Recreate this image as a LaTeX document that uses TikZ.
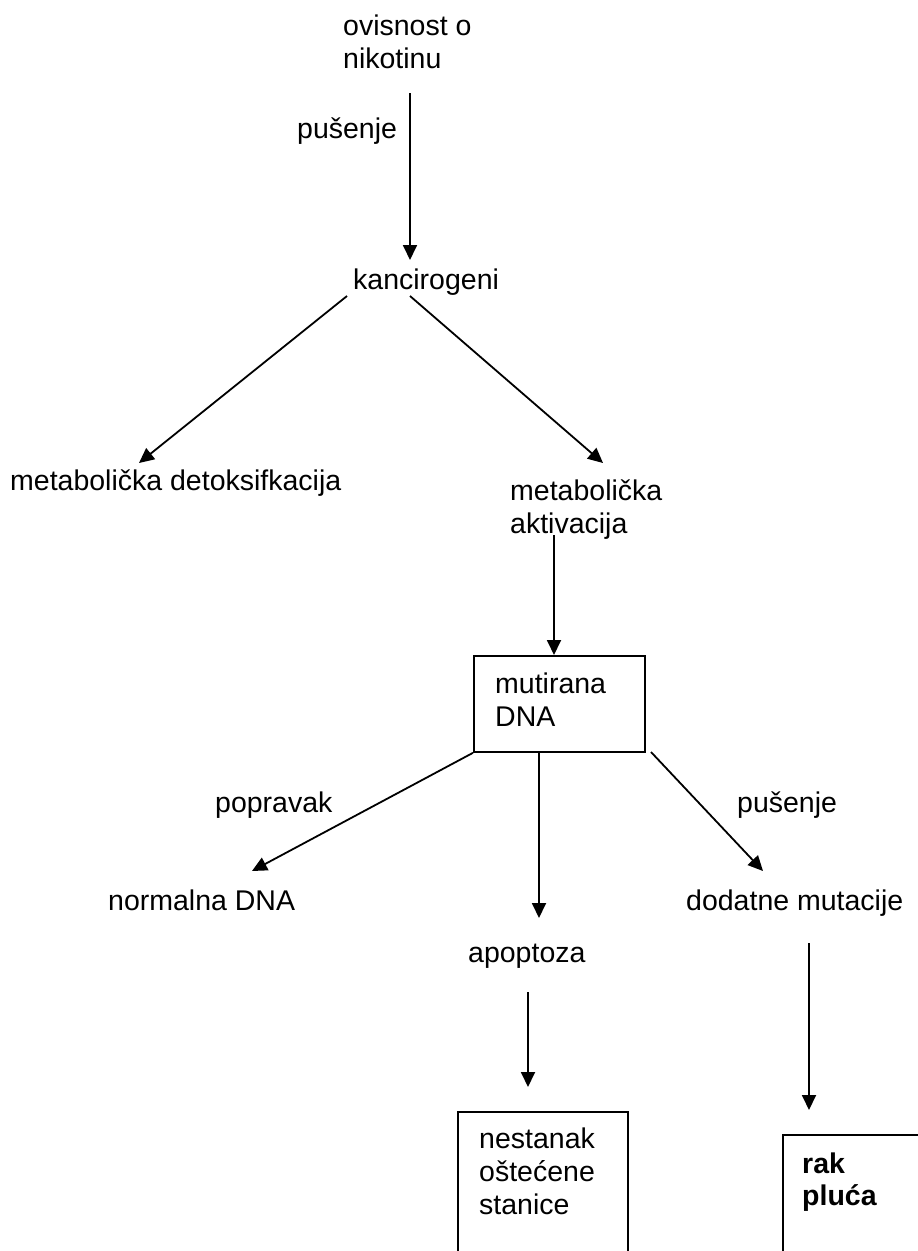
\documentclass[tikz,border=0pt]{standalone}
\usepackage{fontspec}
\setmainfont{Liberation Sans}
\usetikzlibrary{arrows.meta}
\newcommand\mlines[1]{\begin{tabular}[t]{@{}l@{}}#1\end{tabular}}
\begin{document}
\begin{tikzpicture}[x=1pt,y=-1pt,
  txt/.style={anchor=base west,inner sep=0pt,font=\fontsize{28.5}{33.3}\selectfont},
  arr/.style={line width=1.8pt,-{Triangle[length=15pt,width=14pt]}},
  boxline/.style={line width=1.8pt}]
\useasboundingbox (0,0) rectangle (918,1251);
\clip (0,0) rectangle (918,1251);
\fill[white] (0,0) rectangle (918,1251);

% texts
\node[txt] (ovis) at (343,35) {\mlines{ovisnost o\\nikotinu}};
\node[txt] (pus1) at (297,138) {pušenje};
\node[txt] (kanc) at (353,289) {kancirogeni};
\node[txt] (detox) at (10,490) {metabolička detoksifkacija};
\node[txt] (aktiv) at (510,500) {\mlines{metabolička\\aktivacija}};
\node[draw,boxline,anchor=north west,minimum width=171pt,minimum height=96pt,inner sep=0pt] (mutbox) at (473,655) {};
\node[txt] (mut) at (495,693) {\mlines{mutirana\\DNA}};
\node[txt] (poprav) at (215,812) {popravak};
\node[txt] (pus2) at (737,812) {pušenje};
\node[txt] (norm) at (108,910) {normalna DNA};
\node[txt] (dodat) at (686,910) {dodatne mutacije};
\node[txt] (apop) at (468,962) {apoptoza};
\node[txt] (nest) at (479,1148) {\mlines{nestanak\\oštećene\\stanice}};
\node[txt,font=\fontsize{28.5}{32.5}\selectfont\bfseries] (rak) at (802,1173) {\mlines{rak\\pluća}};

% coordinates
\coordinate (a1s) at (410,93);   \coordinate (a1e) at (410,260);
\coordinate (a2s) at (347,296);  \coordinate (a2e) at (139,463);
\coordinate (a3s) at (410,296);  \coordinate (a3e) at (603,463);
\coordinate (a4s) at (554,535);
\coordinate (a5e) at (252,871);
\coordinate (a6s) at (539,751);  \coordinate (a6e) at (539,918);
\coordinate (a7s) at (651,752);  \coordinate (a7e) at (763,871);
\coordinate (a8s) at (528,992);  \coordinate (a8e) at (528,1087);
\coordinate (a9s) at (809,943);  \coordinate (a9e) at (809,1110);
\coordinate (b1bl) at (458,1260); \coordinate (b1tr) at (628,1112); \coordinate (b1br) at (628,1260);
\coordinate (b2bl) at (783,1260); \coordinate (b2tr) at (930,1135);

% connectors
\draw[arr] (a1s) -- (a1e);
\draw[arr] (a2s) -- (a2e);
\draw[arr] (a3s) -- (a3e);
\draw[arr] (a4s) -- (a4s |- mutbox.north);
\draw[arr] (mutbox.south west) -- (a5e);
\draw[arr] (a6s) -- (a6e);
\draw[arr] (a7s) -- (a7e);
\draw[arr] (a8s) -- (a8e);
\draw[arr] (a9s) -- (a9e);

% open boxes
\draw[boxline] (b1bl) |- (b1tr) -- (b1br);
\draw[boxline] (b2bl) |- (b2tr);
\end{tikzpicture}
\end{document}
